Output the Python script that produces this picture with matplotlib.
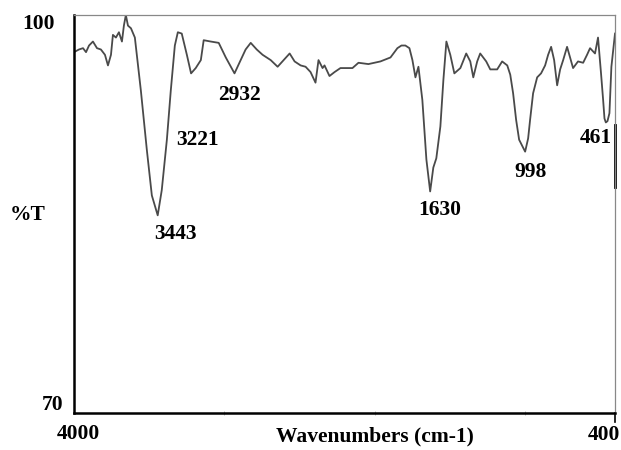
import numpy as np
import matplotlib.pyplot as plt

# FTIR spectrum, %T vs wavenumber
wavenumber = [4000, 3967, 3940, 3920, 3900, 3874, 3847, 3821, 3794, 3774,
              3754, 3741, 3721, 3701, 3681, 3668, 3655, 3641, 3621, 3595,
              3555, 3515, 3482, 3443, 3416, 3382, 3356, 3329, 3309, 3283,
              3249, 3221, 3190, 3156, 3137, 3090, 3037, 2990, 2932, 2891,
              2858, 2824, 2784, 2745, 2691, 2645, 2605, 2565, 2532, 2492,
              2459, 2426, 2393, 2373, 2346, 2333, 2300, 2266, 2227, 2187,
              2147, 2107, 2041, 1961, 1894, 1848, 1821, 1795, 1768, 1748,
              1728, 1708, 1682, 1655, 1630, 1609, 1589, 1562, 1542, 1522,
              1496, 1469, 1429, 1390, 1363, 1343, 1317, 1297, 1257, 1230,
              1184, 1151, 1117, 1097, 1078, 1058, 1038, 998, 978, 965,
              945, 918, 892, 865, 845, 825, 805, 785, 765, 745,
              719, 699, 679, 646, 612, 586, 566, 533, 513, 493,
              479, 470, 461, 450, 437, 424, 400]
transmittance = [97.2, 97.4, 97.5, 97.2, 97.7, 98.0, 97.5, 97.4, 97.0, 96.2,
                 97.0, 98.5, 98.3, 98.7, 98.0, 99.2, 100.0, 99.2, 99.0, 98.3,
                 94.3, 89.8, 86.4, 84.9, 86.8, 90.6, 94.3, 97.7, 98.7, 98.6,
                 97.0, 95.6, 96.0, 96.6, 98.1, 98.0, 97.9, 96.8, 95.6, 96.6,
                 97.4, 97.9, 97.4, 97.0, 96.6, 96.1, 96.6, 97.1, 96.5, 96.2,
                 96.1, 95.7, 94.9, 96.6, 96.0, 96.2, 95.4, 95.7, 96.0, 96.0,
                 96.0, 96.4, 96.3, 96.5, 96.8, 97.5, 97.7, 97.7, 97.5, 96.6,
                 95.3, 96.1, 93.6, 89.1, 86.7, 88.5, 89.2, 91.6, 95.1, 98.0,
                 97.0, 95.6, 96.0, 97.1, 96.5, 95.3, 96.5, 97.1, 96.5, 95.9,
                 95.9, 96.5, 96.2, 95.5, 94.1, 92.1, 90.6, 89.7, 90.7, 92.1,
                 94.1, 95.3, 95.6, 96.2, 97.0, 97.6, 96.6, 94.7, 95.9, 96.6,
                 97.6, 96.8, 96.0, 96.5, 96.4, 97.0, 97.5, 97.1, 98.3, 95.6,
                 93.6, 92.2, 91.9, 92.0, 92.6, 96.1, 98.6]

peaks = [3443, 3221, 2932, 1630, 998, 461]
# label offsets from each peak, in pixels
label_offsets = [(18, -19), (6, -67), (5, -22), (10, -19), (5, -20), (-10, -16)]

plt.rcParams['font.family'] = ['Liberation Serif', 'DejaVu Serif']

fig = plt.figure(figsize=(6.21, 4.5), dpi=100)
ax = fig.add_axes([74 / 621, 37 / 450, 541 / 621, 398 / 450])

ax.plot(wavenumber, transmittance, color='#4a4a4a', linewidth=1.3)
ax.set_xlim(4000, 400)
ax.set_ylim(70, 100)

for wn, off in zip(peaks, label_offsets):
    t = transmittance[wavenumber.index(wn)]
    ax.annotate(str(wn), xy=(wn, t), xytext=off, textcoords='offset pixels',
                ha='center', va='center', fontsize=15.5, fontweight='bold')

# frame: dark left/bottom, light top/right
for side in ['left', 'bottom']:
    ax.spines[side].set_color('black')
    ax.spines[side].set_linewidth(1.8)
for side in ['top', 'right']:
    ax.spines[side].set_color('#888888')
    ax.spines[side].set_linewidth(0.9)
ax.plot([1, 1], [1 - 8.3 / 30, 1 - 13.0 / 30],
        transform=ax.transAxes, color='black', linewidth=2, clip_on=False)
ax.plot([1, 1], [0, -9 / 398], transform=ax.transAxes, color='black',
        linewidth=1.2, clip_on=False)

ax.set_xticks([3000, 2000, 1000])
ax.set_yticks([])
ax.tick_params(axis='x', length=3, width=0.6, color='#aaaaaa', direction='inout',
               labelbottom=False)

tfont = dict(fontsize=15.5, fontweight='bold')
ax.text(-19 / 541, 1 - 9 / 398, '100', transform=ax.transAxes, ha='right', va='center', **tfont)
ax.text(-64 / 541, 1 - 200 / 398, '%T', transform=ax.transAxes, ha='left', va='center', **tfont)
ax.text(-11 / 541, 8 / 398, '70', transform=ax.transAxes, ha='right', va='center', **tfont)
ax.text(4 / 541, -21 / 398, '4000', transform=ax.transAxes, ha='center', va='center', **tfont)
ax.text(530 / 541, -22 / 398, '400', transform=ax.transAxes, ha='center', va='center', **tfont)
ax.text(301 / 541, -23 / 398, 'Wavenumbers (cm-1)', transform=ax.transAxes,
        ha='center', va='center', **tfont)

fig.savefig('out.png', dpi=100)
